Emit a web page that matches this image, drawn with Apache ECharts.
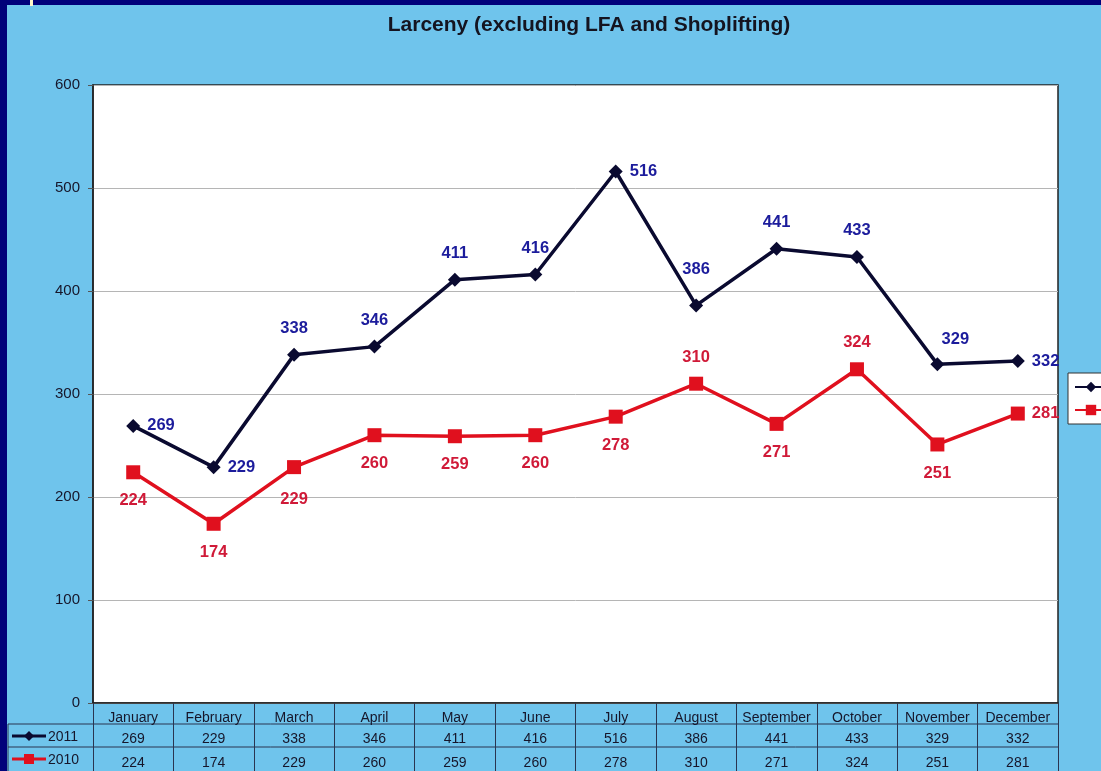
<!DOCTYPE html>
<html>
<head>
<meta charset="utf-8">
<script src="https://cdn.jsdelivr.net/npm/echarts@6/dist/echarts.min.js"></script>
<style>
html,body{margin:0;padding:0;background:#6fc4ec;}
#c{width:1101px;height:771px;}
</style>
</head>
<body>
<div id="c"></div>
<script>
const months = ['January','February','March','April','May','June','July','August','September','October','November','December'];
const series2011 = [269,229,338,346,411,416,516,386,441,433,329,332];
const series2010 = [224,174,229,260,259,260,278,310,271,324,251,281];
const seriesNames = ['2011','2010'];
const yTicks = [0,100,200,300,400,500,600];

// label placement per point (style, not data)
const pos2011 = ['right','right','top','top','top','top','right','top','top','top','top','right'];
const pos2010 = ['bottom','bottom','bottom','bottom','bottom','bottom','bottom','top','bottom','top','bottom','right'];

const GL = 93, GR = 43, GT = 85, GB = 68;
const W = 1101, H = 771;
const plotBottom = H - GB;
const row1 = 724, row2 = 747;

const c2011Line = '#0a0a30', c2011Lbl = '#1c1c9c';
const c2010Line = '#e0101e', c2010Lbl = '#d01a38';
const tableLine = '#2a3550';
const txt = '#16162a';

function mk(vals, posArr, extra) {
  return vals.map((v, i) => {
    const p = posArr[i];
    const lbl = { position: p, distance: p === 'right' ? 7 : (p === 'top' ? 11 : 13) };
    if (extra && extra[i]) Object.assign(lbl, extra[i]);
    return { value: v, label: lbl };
  });
}

const chart = echarts.init(document.getElementById('c'), null, { renderer: 'canvas' });

const graphics = [
  { type: 'rect', shape: { x: 0, y: 0, width: W, height: 5 }, style: { fill: '#01017a' }, z: 100 },
  { type: 'rect', shape: { x: 0, y: 0, width: 7, height: H }, style: { fill: '#01017a' }, z: 100 },
  { type: 'rect', shape: { x: 30, y: 0, width: 3, height: 6 }, style: { fill: '#fff6c8' }, z: 101 },
  // table horizontal lines
  { type: 'line', shape: { x1: 8, y1: row1, x2: W - GR, y2: row1 }, style: { stroke: tableLine, lineWidth: 1 } },
  { type: 'line', shape: { x1: 8, y1: row2, x2: W - GR, y2: row2 }, style: { stroke: tableLine, lineWidth: 1 } },
  { type: 'line', shape: { x1: 8, y1: row1, x2: 8, y2: H }, style: { stroke: tableLine, lineWidth: 1 } },
  // table legend keys
  { type: 'line', shape: { x1: 12, y1: 736, x2: 46, y2: 736 }, style: { stroke: c2011Line, lineWidth: 3 } },
  { type: 'polygon', shape: { points: [[29,731],[34,736],[29,741],[24,736]] }, style: { fill: c2011Line } },
  { type: 'text', style: { x: 48, y: 737, text: seriesNames[0], font: '14px Arial', fill: txt, verticalAlign: 'middle' } },
  { type: 'line', shape: { x1: 12, y1: 759, x2: 46, y2: 759 }, style: { stroke: c2010Line, lineWidth: 3 } },
  { type: 'rect', shape: { x: 24, y: 754, width: 10, height: 10 }, style: { fill: c2010Line } },
  { type: 'text', style: { x: 48, y: 760, text: seriesNames[1], font: '14px Arial', fill: txt, verticalAlign: 'middle' } }
];

const option = {
  backgroundColor: '#6fc4ec',
  animation: false,
  title: {
    text: 'Larceny (excluding LFA and Shoplifting)',
    left: 584, top: 10, textAlign: 'center',
    textStyle: { fontFamily: 'Arial', fontSize: 21, fontWeight: 'bold', color: '#141420' }
  },
  legend: {
    orient: 'vertical', left: 1068, top: 373,
    backgroundColor: '#ffffff', borderColor: '#333', borderWidth: 1,
    padding: [7, 6, 7, 6], itemGap: 9, itemWidth: 32, itemHeight: 13,
    textStyle: { fontFamily: 'Arial', fontSize: 14, color: txt },
    data: seriesNames
  },
  grid: {
    left: GL, right: GR, top: GT, bottom: GB,
    show: true, backgroundColor: '#ffffff', borderColor: '#222', borderWidth: 1.5
  },
  xAxis: [
    {
      type: 'category', data: months, position: 'bottom', boundaryGap: true,
      axisLine: { show: true, lineStyle: { color: '#222', width: 1.5 } },
      axisTick: { show: true, length: H - plotBottom, interval: 0, lineStyle: { color: tableLine, width: 1 } },
      axisLabel: { interval: 0, margin: 8, fontFamily: 'Arial', fontSize: 14, color: txt }
    },
    {
      type: 'category', data: series2011.map(String), position: 'bottom', offset: row1 - plotBottom,
      axisLine: { show: false }, axisTick: { show: false },
      axisLabel: { interval: 0, margin: 8, fontFamily: 'Arial', fontSize: 14, color: txt }
    },
    {
      type: 'category', data: series2010.map(String), position: 'bottom', offset: row2 - plotBottom,
      axisLine: { show: false }, axisTick: { show: false },
      axisLabel: { interval: 0, margin: 9, fontFamily: 'Arial', fontSize: 14, color: txt }
    }
  ],
  yAxis: {
    type: 'value', min: yTicks[0], max: yTicks[yTicks.length - 1], interval: 100,
    axisLine: { show: true, lineStyle: { color: '#222', width: 1.5 } },
    axisTick: { show: true, length: 5, lineStyle: { color: '#555' } },
    axisLabel: { margin: 13, fontFamily: 'Arial', fontSize: 15, color: txt },
    splitLine: { show: true, lineStyle: { color: '#b5b5b5', width: 1 } }
  },
  series: [
    {
      name: seriesNames[0], type: 'line', xAxisIndex: 0,
      data: mk(series2011, pos2011, { 10: { offset: [18, 2] }, 7: { distance: 20 } }),
      symbol: 'diamond', symbolSize: 14,
      lineStyle: { color: c2011Line, width: 3.5 },
      itemStyle: { color: c2011Line },
      label: { show: true, fontFamily: 'Arial', fontSize: 16.5, fontWeight: 'bold', color: c2011Lbl },
      z: 3
    },
    {
      name: seriesNames[1], type: 'line', xAxisIndex: 0,
      data: mk(series2010, pos2010, { 2: { distance: 17 } }),
      symbol: 'rect', symbolSize: 14,
      lineStyle: { color: c2010Line, width: 3.5 },
      itemStyle: { color: c2010Line },
      label: { show: true, fontFamily: 'Arial', fontSize: 16.5, fontWeight: 'bold', color: c2010Lbl },
      z: 2
    }
  ],
  graphic: graphics
};
chart.setOption(option);
</script>
</body>
</html>
